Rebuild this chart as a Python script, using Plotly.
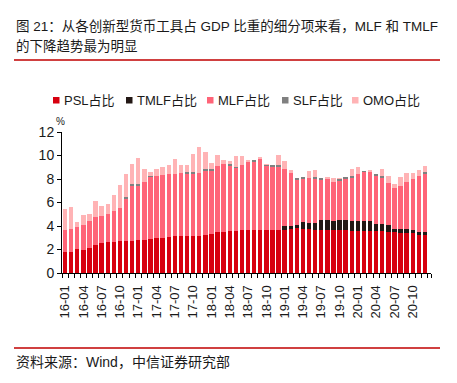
import plotly.graph_objects as go

months = [f"{y:02d}-{m:02d}" for y in range(16, 21) for m in range(1, 13)]
tick_labels = months[::3]

psl = [1.79, 1.79, 2.01, 1.93, 2.13, 2.38, 2.55, 2.61, 2.61, 2.72, 2.72, 2.72,
       2.78, 2.78, 2.87, 2.95, 2.95, 3.06, 3.12, 3.12, 3.12, 3.12, 3.12, 3.21,
       3.29, 3.46, 3.46, 3.55, 3.55, 3.63, 3.63, 3.63, 3.63, 3.63, 3.63, 3.63,
       3.63, 3.72, 3.80, 3.72, 3.72, 3.63, 3.63, 3.63, 3.63, 3.63, 3.63, 3.55,
       3.55, 3.55, 3.55, 3.55, 3.55, 3.46, 3.46, 3.38, 3.38, 3.38, 3.21, 3.21]
tmlf = [0] * 36 + [0.34, 0.25, 0.26, 0.59, 0.51, 0.60, 0.85, 0.85, 0.77, 0.85, 0.85, 0.85,
                   0.85, 0.85, 0.85, 0.59, 0.59, 0.60, 0.26, 0.34, 0.34, 0.25, 0.25, 0.25]
mlf = [1.84, 1.93, 1.90, 2.13, 2.27, 2.39, 2.30, 2.38, 2.64, 2.81, 3.63, 4.66,
       4.65, 4.96, 5.30, 5.28, 5.36, 5.34, 5.28, 5.36, 5.39, 5.36, 5.36, 5.44,
       5.45, 5.62, 5.79, 5.61, 5.41, 5.53, 5.87, 5.87, 6.04, 5.50, 5.45, 5.36,
       4.85, 4.51, 3.91, 3.75, 3.83, 3.83, 3.49, 3.49, 3.32, 3.41, 3.58, 3.66,
       4.00, 4.20, 4.25, 4.17, 4.00, 3.57, 3.49, 3.66, 4.00, 4.34, 4.77, 5.02]
slf = [0, 0, 0, 0, 0, 0, 0, 0, 0, 0, 0.12, 0.17,
       0.12, 0, 0.09, 0, 0, 0, 0, 0, 0.09, 0.12, 0, 0.23,
       0.08, 0, 0, 0.09, 0.09, 0, 0, 0.09, 0, 0.09, 0.08, 0.17,
       0, 0, 0.09, 0.08, 0, 0.08, 0.09, 0, 0, 0.11, 0.08, 0.17,
       0, 0.08, 0, 0.09, 0.09, 0, 0, 0, 0, 0, 0, 0.09]
omo = [1.79, 1.87, 0.40, 0.85, 0.59, 1.33, 0.82, 0.85, 1.36, 1.93, 1.93, 1.70,
       2.24, 1.08, 0.31, 0.65, 0.68, 0.76, 1.27, 0.68, 0.56, 1.53, 2.22, 1.42,
       0.51, 0.93, 0.34, 0.25, 0.88, 0.77, 0.09, 0, 0.17, 0.03, 0, 0.85,
       0.68, 0.26, 0, 0, 0.59, 0.60, 0, 0.17, 0.34, 0.06, 0, 0.59,
       0.59, 0, 0.09, 0, 0.59, 0.60, 0.34, 0.76, 0.76, 0.51, 0.51, 0.51]

series = [
    ("PSL占比", psl, "#d7000f"),
    ("TMLF占比", tmlf, "#231815"),
    ("MLF占比", mlf, "#ff6478"),
    ("SLF占比", slf, "#808080"),
    ("OMO占比", omo, "#ffb3b5"),
]

W, H = 457, 383
L, R, T, B = 62, 431, 132, 273
FONT = "Liberation Sans, Arial, Noto Sans CJK SC, sans-serif"
TXT = "#1a1a1a"


def px(x):
    return (x - L) / (R - L)


def py(y):
    return (B - y) / (B - T)


xpos = list(range(len(months)))
fig = go.Figure()
for name, vals, color in series:
    fig.add_trace(go.Bar(x=xpos, y=vals, name=name, marker_color=color,
                         marker_line_width=0, width=0.72, showlegend=False,
                         hovertext=months))

annotations = [
    dict(x=px(14), y=py(26), text="图 21：从各创新型货币工具占 GDP 比重的细分项来看，MLF 和 TMLF",
         xanchor="left", yanchor="middle", font=dict(size=13.5, color=TXT)),
    dict(x=px(14), y=py(46), text="的下降趋势最为明显",
         xanchor="left", yanchor="middle", font=dict(size=13.5, color=TXT)),
    dict(x=px(14), y=py(362), text="资料来源：Wind，中信证券研究部",
         xanchor="left", yanchor="middle", font=dict(size=14, color=TXT)),
    dict(x=px(60), y=py(121), text="%", xanchor="center", yanchor="middle",
         font=dict(size=10, color=TXT)),
]
shapes = [
    dict(type="line", x0=px(14), x1=px(440), y0=py(60), y1=py(60),
         line=dict(color="#c00000", width=1.5)),
    dict(type="line", x0=px(14), x1=px(440), y0=py(348), y1=py(348),
         line=dict(color="#c00000", width=1.5)),
]
legend_sq = [53, 126, 207, 282, 352]
for (name, _, color), sx in zip(series, legend_sq):
    shapes.append(dict(type="rect", x0=px(sx), x1=px(sx + 6.5), y0=py(97), y1=py(103.5),
                       fillcolor=color, line=dict(width=0)))
    annotations.append(dict(x=px(sx + 9), y=py(100.5), text=name, xanchor="left",
                            yanchor="middle", font=dict(size=13, color=TXT)))
for a in annotations:
    a.update(xref="paper", yref="paper", showarrow=False)
for s in shapes:
    s.update(xref="paper", yref="paper")

fig.update_layout(
    width=W, height=H, autosize=False,
    margin=dict(l=L, r=W - R, t=T, b=H - B, pad=0),
    paper_bgcolor="white", plot_bgcolor="white",
    font=dict(family=FONT, color=TXT),
    barmode="stack",
    annotations=annotations, shapes=shapes,
    xaxis=dict(range=[-0.5, 60.0], tickmode="array", tickvals=xpos[::3],
               ticktext=tick_labels, tickangle=-90, ticks="", showgrid=False,
               showline=True, linecolor="black", linewidth=1, zeroline=False,
               tickfont=dict(size=13, color=TXT), ticklabelstandoff=6,
               minor=dict(tickmode="array", tickvals=[i - 0.5 for i in range(61)] + [60.0],
                          ticks="outside", ticklen=4, tickcolor="black", tickwidth=1,
                          showgrid=False)),
    yaxis=dict(range=[0, 12], dtick=2, tick0=0, ticks="outside", ticklen=4,
               tickcolor="black", showgrid=False, showline=True, linecolor="black",
               linewidth=1, zeroline=False, tickfont=dict(size=14, color=TXT)),
)

fig.write_html("out.html", config={"displayModeBar": False},
               post_script="document.body.style.margin='0';document.body.style.overflow='hidden';")
